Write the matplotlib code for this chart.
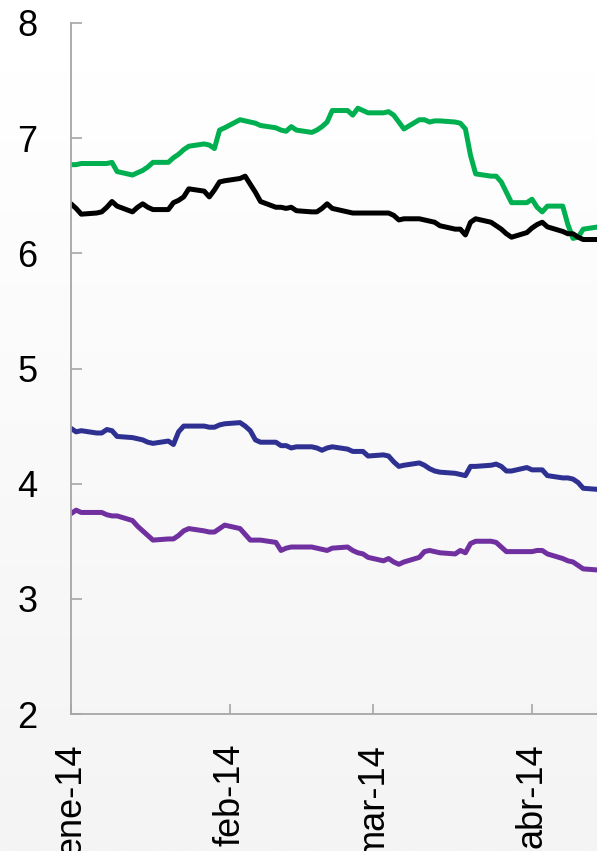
import numpy as np
import pandas as pd
import matplotlib
matplotlib.use("Agg")
import matplotlib.pyplot as plt
from matplotlib.colors import LinearSegmentedColormap

plt.rcParams['font.family'] = ['Liberation Sans', 'DejaVu Sans']

# Business days, 1 Jan - 14 Apr 2014
dates = pd.bdate_range("2014-01-01", "2014-04-14")

green = [
    6.77, 6.77, 6.78, 6.78, 6.78, 6.78, 6.79, 6.71, 6.68, 6.70, 6.72, 6.75,
    6.79, 6.79, 6.83, 6.86, 6.90, 6.93, 6.95, 6.94, 6.91, 7.07, 7.09,
    7.16, 7.15, 7.14, 7.13, 7.11, 7.09, 7.07, 7.06, 7.10, 7.07, 7.05, 7.07,
    7.10, 7.14, 7.24, 7.24, 7.20, 7.26, 7.24, 7.22,
    7.22, 7.23, 7.20, 7.14, 7.08, 7.16, 7.16, 7.14, 7.15, 7.15, 7.14, 7.13,
    7.08, 6.85, 6.69, 6.67, 6.67, 6.62, 6.53, 6.44, 6.44,
    6.47, 6.40, 6.36, 6.41, 6.41, 6.25, 6.13, 6.14, 6.21, 6.23,
]
black = [
    6.43, 6.39, 6.34, 6.35, 6.36, 6.40, 6.45, 6.41, 6.36, 6.40, 6.43, 6.40,
    6.38, 6.38, 6.44, 6.46, 6.49, 6.56, 6.54, 6.49, 6.55, 6.62, 6.63,
    6.65, 6.67, 6.60, 6.53, 6.45, 6.40, 6.40, 6.39, 6.40, 6.37, 6.36, 6.36,
    6.39, 6.43, 6.39, 6.36, 6.35, 6.35, 6.35, 6.35,
    6.35, 6.35, 6.33, 6.29, 6.30, 6.30, 6.29, 6.28, 6.27, 6.24, 6.21, 6.21,
    6.16, 6.27, 6.30, 6.27, 6.24, 6.21, 6.17, 6.14, 6.18,
    6.22, 6.25, 6.27, 6.23, 6.19, 6.17, 6.17, 6.14, 6.12, 6.12,
]
blue = [
    4.48, 4.45, 4.46, 4.44, 4.44, 4.47, 4.46, 4.41, 4.40, 4.39, 4.38, 4.36,
    4.35, 4.37, 4.34, 4.45, 4.50, 4.50, 4.50, 4.49, 4.49, 4.51, 4.52,
    4.53, 4.50, 4.46, 4.38, 4.36, 4.36, 4.33, 4.33, 4.31, 4.32, 4.32, 4.31,
    4.29, 4.31, 4.32, 4.30, 4.28, 4.28, 4.28, 4.24,
    4.25, 4.24, 4.19, 4.15, 4.16, 4.18, 4.16, 4.13, 4.11, 4.10, 4.09, 4.08,
    4.07, 4.15, 4.15, 4.16, 4.17, 4.15, 4.11, 4.11, 4.14,
    4.12, 4.12, 4.12, 4.07, 4.05, 4.05, 4.04, 4.01, 3.96, 3.95,
]
purple = [
    3.74, 3.77, 3.75, 3.75, 3.75, 3.73, 3.72, 3.72, 3.68, 3.63, 3.59, 3.55,
    3.51, 3.52, 3.52, 3.55, 3.59, 3.61, 3.59, 3.58, 3.58, 3.61, 3.64,
    3.61, 3.56, 3.51, 3.51, 3.51, 3.49, 3.42, 3.44, 3.45, 3.45, 3.45, 3.44,
    3.43, 3.42, 3.44, 3.45, 3.42, 3.40, 3.39, 3.36,
    3.33, 3.35, 3.32, 3.30, 3.32, 3.36, 3.41, 3.42, 3.41, 3.40, 3.39, 3.42,
    3.40, 3.48, 3.50, 3.50, 3.49, 3.45, 3.41, 3.41, 3.41,
    3.41, 3.42, 3.42, 3.39, 3.35, 3.33, 3.32, 3.29, 3.26, 3.25,
]

series_colors = ["#00b050", "#000000", "#2e3192", "#7030a0"]
month_ticks = pd.to_datetime(["2014-01-01", "2014-02-01", "2014-03-01", "2014-04-01"])
month_labels = ["ene-14", "feb-14", "mar-14", "abr-14"]
y_ticks = [2, 3, 4, 5, 6, 7, 8]

W, H = 597, 851
fig = plt.figure(figsize=(W / 100, H / 100), dpi=100)

# soft vertical background gradient
bg = fig.add_axes([0, 0, 1, 1], zorder=-10)
grad = np.clip((np.linspace(0, 1, 400) - 0.08) / 0.92, 0, 1)[:, None]
cmap = LinearSegmentedColormap.from_list("bg", ["#ffffff", "#f4f4f4"])
bg.imshow(grad, aspect="auto", cmap=cmap, extent=[0, 1, 1, 0], vmin=0, vmax=1)
bg.axis("off")

x0 = pd.Timestamp("2014-01-01")
x1 = pd.Timestamp("2014-05-01")
px_per_day = (532 - 71) / 90
ax_w = (x1 - x0).days * px_per_day / W
ax = fig.add_axes([71 / W, 137 / H, ax_w, (714 - 23) / H])
ax.set_facecolor("none")

for vals, col in zip([green, black, blue, purple], series_colors):
    ax.plot(dates, vals, color=col, lw=3.6, solid_joinstyle="round", solid_capstyle="round")

ax.set_xlim(x0, x1)
ax.set_ylim(2, 8)
ax.set_yticks(y_ticks)
ax.set_yticklabels([str(v) for v in y_ticks])
ax.set_xticks(month_ticks)
ax.set_xticklabels(month_labels, rotation=90, va="top", ha="center")

for side in ["top", "right"]:
    ax.spines[side].set_visible(False)
for side in ["left", "bottom"]:
    ax.spines[side].set_color("#a6a6a6")
    ax.spines[side].set_linewidth(1.3)

ax.tick_params(axis="y", direction="in", length=8, width=1.2, color="#a6a6a6",
               labelsize=26, pad=24)
ax.tick_params(axis="x", direction="in", length=7, width=1.2, color="#a6a6a6",
               labelsize=26, pad=21)

fig.savefig("out.png", dpi=100)
